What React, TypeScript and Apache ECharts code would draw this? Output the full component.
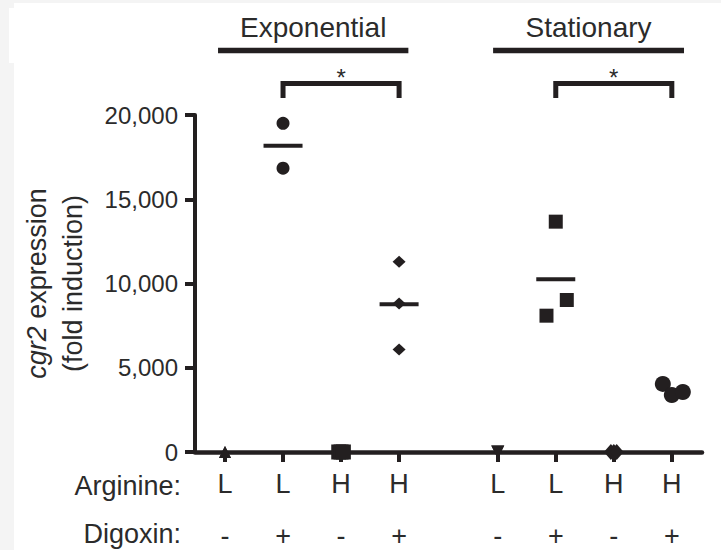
import React, { useEffect, useRef } from "react";
import * as echarts from "echarts";

// ---------- data ----------
const categoryPositions = [1, 2, 3, 4, 5.7, 6.7, 7.7, 8.7];
const arginineLabels = ["L", "L", "H", "H", "L", "L", "H", "H"];
const digoxinLabels = ["-", "+", "-", "+", "-", "+", "-", "+"];
const phaseNames = ["Exponential", "Stationary"];
const comparisonPairs = [
  [1, 3],
  [5, 7],
];
const comparisonMarks = ["*", "*"];
const pointValues = [
  [1, 1],
  [19510, 16840],
  [1, 1, 1],
  [11290, 8820, 6090],
  [1, 1],
  [13670, 9020, 8090],
  [1, 1, 1],
  [4040, 3380, 3560],
];
// mean bars that are visible in the picture (others hidden under markers / axis)
const groupMeans: (number | null)[] = [null, 18180, null, 8770, null, 10250, null, null];
const yTickValues = [0, 5000, 10000, 15000, 20000];

// ---------- layout / style ----------
const pointOffsets = [
  [0, 0],
  [0, 0],
  [-0.04, 0, 0.04],
  [0, 0, 0],
  [0, 0],
  [0, 0.19, -0.16],
  [-0.05, 0, 0.05],
  [-0.155, 0, 0.19],
];
const groupSymbols = ["triangle", "circle", "rect", "diamond", "triangle", "rect", "diamond", "circle"];
const groupRotate = [0, 0, 0, 0, 180, 0, 0, 0];
const groupSizes: any[] = [12, 13, 15, [13, 12], 13, 14, [14, 16], 16];
const phaseSpans = [
  [0.88, 4.16],
  [5.62, 8.91],
];
const X_MIN = 0.483;
const X_MAX = 9.22;
const INK = "#231f20";
const TXT = "#2b2b2b";
const FONT = "'Liberation Sans', Arial, Helvetica, sans-serif";

export default function App() {
  const ref = useRef<HTMLDivElement>(null);

  useEffect(() => {
    if (!ref.current) return;
    const chart = echarts.init(ref.current, null, { renderer: "svg" });

    const series: any[] = pointValues.map((vals, g) => ({
      type: "scatter",
      name: `${arginineLabels[g]}${digoxinLabels[g]}`,
      clip: false,
      symbol: groupSymbols[g],
      symbolRotate: groupRotate[g],
      symbolSize: groupSizes[g],
      itemStyle: { color: INK, opacity: 1 },
      z: 5,
      data: vals.map((v, i) => [categoryPositions[g] + pointOffsets[g][i], v]),
    }));
    series.push({
      type: "scatter",
      name: "mean",
      clip: false,
      symbol: "rect",
      symbolSize: [39, 4],
      itemStyle: { color: INK, opacity: 1 },
      z: 4,
      data: groupMeans
        .map((m, g) => (m == null ? null : [categoryPositions[g], m]))
        .filter((d) => d !== null),
    });

    const labelFor = (arr: string[]) => (v: number) => {
      const i = categoryPositions.findIndex((p) => Math.abs(p - v) < 1e-6);
      return i >= 0 ? arr[i] : "";
    };

    chart.setOption({
      animation: false,
      grid: { left: 195, right: 19, top: 115, bottom: 98, containLabel: false },
      xAxis: [
        {
          type: "value",
          min: X_MIN,
          max: X_MAX,
          axisLine: { show: true, onZero: false, lineStyle: { color: INK, width: 4.5 } },
          axisTick: {
            show: true,
            customValues: categoryPositions,
            length: 10,
            lineStyle: { color: INK, width: 4 },
          },
          axisLabel: {
            show: true,
            customValues: categoryPositions,
            formatter: labelFor(arginineLabels),
            margin: 18,
            fontSize: 27,
            fontFamily: FONT,
            color: TXT,
          },
          splitLine: { show: false },
        },
        {
          type: "value",
          min: X_MIN,
          max: X_MAX,
          position: "bottom",
          axisLine: { show: false },
          axisTick: { show: false },
          axisLabel: {
            show: true,
            customValues: categoryPositions,
            formatter: labelFor(digoxinLabels),
            margin: 70,
            fontSize: 27,
            fontFamily: FONT,
            color: TXT,
          },
          splitLine: { show: false },
        },
      ],
      yAxis: {
        type: "value",
        min: 0,
        max: 20000,
        interval: 5000,
        axisLine: { show: true, lineStyle: { color: INK, width: 4 } },
        axisTick: { show: true, length: 10, lineStyle: { color: INK, width: 4 } },
        axisLabel: {
          margin: 17,
          fontSize: 24,
          fontFamily: FONT,
          color: TXT,
          customValues: yTickValues,
          formatter: (v: number) => v.toLocaleString("en-US"),
        },
        splitLine: { show: false },
        name: "{i|cgr2} expression\n(fold induction)",
        nameLocation: "middle",
        nameGap: 104,
        nameRotate: 90,
        nameTextStyle: {
          fontSize: 27,
          lineHeight: 36,
          fontFamily: FONT,
          color: TXT,
          rich: {
            i: { fontSize: 27, lineHeight: 36, fontStyle: "italic", fontFamily: FONT, color: TXT },
          },
        },
      },
      series,
    });

    const P = (x: number, y: number) => chart.convertToPixel({ gridIndex: 0 }, [x, y]) as number[];
    const origin = P(X_MIN, 0);
    const g: any[] = [];
    const titleY = 25220;
    const phaseLineY = 23830;
    const bracketTop = 21870;
    const bracketLeg = 21010;
    const starY = 22250;

    phaseNames.forEach((name, k) => {
      const a = P(phaseSpans[k][0], phaseLineY);
      const b = P(phaseSpans[k][1], phaseLineY);
      g.push({
        type: "line",
        shape: { x1: a[0], y1: a[1], x2: b[0], y2: b[1] },
        style: { stroke: INK, lineWidth: 5.5 },
      });
      const t = P((phaseSpans[k][0] + phaseSpans[k][1]) / 2, titleY);
      g.push({
        type: "text",
        x: t[0],
        y: t[1],
        style: { text: name, fontSize: 28, fontFamily: FONT, fill: TXT, align: "center", verticalAlign: "middle" },
      });
    });

    comparisonPairs.forEach(([i, j], k) => {
      const p1 = P(categoryPositions[i], bracketLeg);
      const p2 = P(categoryPositions[i], bracketTop);
      const p3 = P(categoryPositions[j], bracketTop);
      const p4 = P(categoryPositions[j], bracketLeg);
      g.push({
        type: "polyline",
        shape: { points: [p1, p2, p3, p4] },
        style: { stroke: INK, lineWidth: 5, fill: null, lineJoin: "miter", lineCap: "butt" },
      });
      const s = P((categoryPositions[i] + categoryPositions[j]) / 2, starY);
      g.push({
        type: "text",
        x: s[0],
        y: s[1],
        style: { text: comparisonMarks[k], fontSize: 24, fontFamily: FONT, fill: TXT, align: "center", verticalAlign: "middle" },
      });
    });

    g.push({
      type: "text",
      x: origin[0] - 14,
      y: origin[1] + 34,
      style: { text: "Arginine:", fontSize: 27, fontFamily: FONT, fill: TXT, align: "right", verticalAlign: "middle" },
    });
    g.push({
      type: "text",
      x: origin[0] - 14,
      y: origin[1] + 82,
      style: { text: "Digoxin:", fontSize: 27, fontFamily: FONT, fill: TXT, align: "right", verticalAlign: "middle" },
    });

    chart.setOption({ graphic: g });

    return () => chart.dispose();
  }, []);

  return (
    <div style={{ position: "fixed", left: 0, top: 0, width: 721, height: 550, background: "#f4f4f4", overflow: "hidden" }}>
      <div style={{ position: "absolute", left: 14, top: 3, width: 707, height: 547, background: "#ffffff" }} />
      <div style={{ position: "absolute", left: 9, top: 8, width: 6, height: 55, background: "#ffffff" }} />
      <div ref={ref} style={{ position: "absolute", left: 0, top: 0, width: 721, height: 550 }} />
    </div>
  );
}
